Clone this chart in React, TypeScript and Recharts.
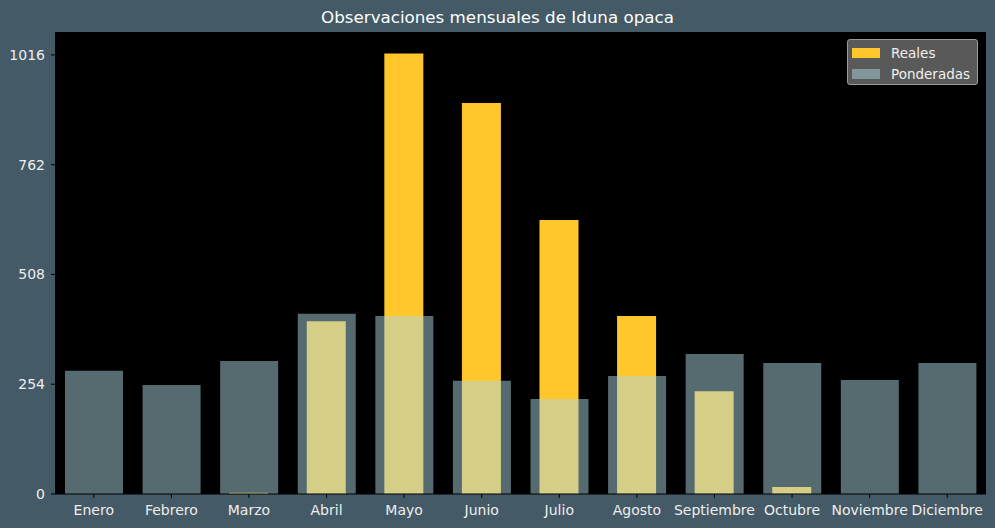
import { BarChart, Bar, XAxis, YAxis, CartesianGrid } from 'recharts'

const meses = ['Enero', 'Febrero', 'Marzo', 'Abril', 'Mayo', 'Junio', 'Julio', 'Agosto', 'Septiembre', 'Octubre', 'Noviembre', 'Diciembre']
const reales = [0, 0, 3, 400, 1019, 905, 634, 412, 238, 16, 0, 0]
const ponderadas = [285, 252, 308, 417, 412, 262, 220, 273, 324, 303, 264, 303]
const yTicks = [0, 254, 508, 762, 1016]

const data = meses.map((mes, i) => ({ mes, reales: reales[i], ponderadas: ponderadas[i] }))

const font = '"DejaVu Sans", sans-serif'

// legend drawn as a plain box over the plot (recharts Legend steals width)
function LegendBox() {
  const items = [
    { label: 'Reales', color: '#ffc72c', opacity: 1 },
    { label: 'Ponderadas', color: '#aad6e0', opacity: 0.5 },
  ]
  return (
    <div style={{
      position: 'absolute', top: 39, left: 847, width: 131, height: 46, boxSizing: 'border-box',
      background: '#595959', border: '1px solid #9a9a9a', borderRadius: 3,
      padding: '2px 0 0 4px', fontFamily: font, fontSize: 13.5, color: '#f0f0f0',
    }}>
      {items.map(it => (
        <div key={it.label} style={{ display: 'flex', alignItems: 'center', height: 21 }}>
          <span style={{ width: 28, height: 10, marginRight: 11, position: 'relative', background: '#595959' }}>
            <span style={{ position: 'absolute', inset: 0, background: it.color, opacity: it.opacity }} />
          </span>
          <span>{it.label}</span>
        </div>
      ))}
    </div>
  )
}

export default function App() {
  return (
    <div style={{ position: 'fixed', left: 0, top: 0, width: 995, height: 528, background: '#445a66' }}>
      <div style={{
        position: 'absolute', top: 7, left: 0, width: 995, textAlign: 'center',
        fontFamily: font, fontSize: 16.7, color: '#ffffff',
      }}>
        Observaciones mensuales de Iduna opaca
      </div>
      <BarChart width={995} height={528} data={data} margin={{ top: 32, right: 9, left: 0, bottom: 0 }}>
        <CartesianGrid fill="#000000" stroke="transparent" />
        <XAxis xAxisId="a" dataKey="mes" height={34} tickLine={{ stroke: '#000' }} axisLine={{ stroke: '#000' }}
          tickSize={4} tickMargin={7} interval={0}
          tick={{ fill: '#eeeeee', fontSize: 14, fontFamily: font }} />
        <XAxis xAxisId="b" dataKey="mes" hide />
        <YAxis xAxisId="a" width={55} domain={[0, 1069]} ticks={yTicks} tickLine={{ stroke: '#000' }} axisLine={false}
          tickSize={4} tickMargin={6} allowDataOverflow
          tick={{ fill: '#eeeeee', fontSize: 14, fontFamily: font }} />
        <Bar xAxisId="a" dataKey="reales" barSize={39} fill="#ffc72c" isAnimationActive={false} />
        <Bar xAxisId="b" dataKey="ponderadas" barSize={58} fill="#aad6e0" fillOpacity={0.5} isAnimationActive={false} />
      </BarChart>
      <LegendBox />
    </div>
  )
}
